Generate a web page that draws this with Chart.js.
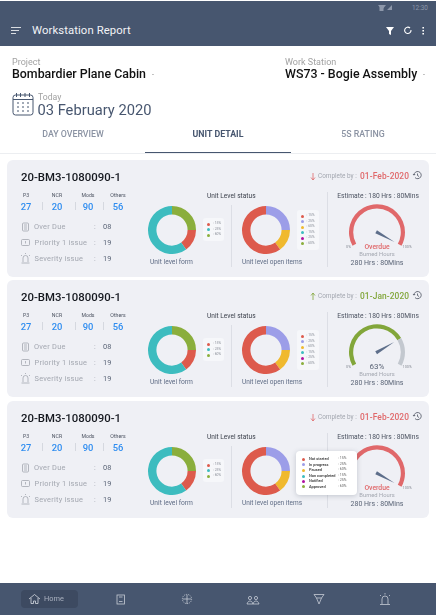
<!DOCTYPE html>
<html>
<head>
<meta charset="utf-8">
<title>Workstation Report</title>
<script src="https://cdn.jsdelivr.net/npm/chart.js@4"></script>
<style>
    html, body { margin: 0; padding: 0; background: #fff; }
    #page { position: relative; width: 436px; height: 616px; overflow: hidden; font-family: Roboto, sans-serif; filter: blur(0.3px); }
    #page div, #page canvas, #page svg { position: absolute; }
    .t { white-space: nowrap; transform: translateY(-50%); line-height: 1; }
    .c { transform: translate(-50%, -50%); }
    svg { overflow: visible; fill: none; }
</style>
</head>
<body>
<div id="page"></div>
<script>
// Values, one entry per unit card.
const unitNames = ['20-BM3-1080090-1', '20-BM3-1080090-1', '20-BM3-1080090-1'];
const countLabels = ['P3', 'NCR', 'Mods', 'Others'];
const countValues = [27, 20, 90, 56];
const issueLabels = ['Over Due', 'Priority 1 issue', 'Severity  issue'];
const issueValues = ['08', '19', '19'];
const completeDates = ['01-Feb-2020', '01-Jan-2020', '01-Feb-2020'];
const gaugeCaptions = ['Overdue', '63%', 'Overdue'];
const gaugeValues = [100, 75, 100];
// Slices clockwise from twelve o'clock.
const formValues = [25, 15, 60];
const openValues = [25, 15, 60];
// Legends as printed.
const formLegend = ['15%', '25%', '60%'];
const openNames = ['Not started', 'In progress', 'Paused', 'Non completed', 'Notified', 'Approved'];
const openLegend = ['15%', '25%', '60%', '15%', '25%', '60%'];

const RED = '#dd5a4c', TEAL = '#3dbcbf', GREEN = '#8aae3c', PURPLE = '#9c9de8', YELLOW = '#f0b92e', MAGENTA = '#b010a0';
const SLATE = '#47566f';
const formColors = [GREEN, RED, TEAL];
const openColors = [PURPLE, YELLOW, RED];
const formLegendColors = [RED, TEAL, GREEN];
const openLegendColors = [RED, PURPLE, YELLOW, TEAL, MAGENTA, GREEN];

const page = document.getElementById( 'page' );

/**
 * Adds a plain box to the page.
 */
function box( x, y, w, h, style ) {
    const el = document.createElement( 'div' );
    el.style.cssText = `left:${x}px;top:${y}px;width:${w}px;height:${h}px;${style || ''}`;
    page.appendChild( el );
    return el;
}

/**
 * Adds a text line, x is its left edge (or centre if centred) and y its middle.
 */
function text( x, y, str, style, centred ) {
    const el = document.createElement( 'div' );
    el.className = centred ? 't c' : 't';
    el.style.cssText = `left:${x}px;top:${y}px;${style}`;
    el.textContent = str;
    page.appendChild( el );
    return el;
}

/**
 * Adds a little line icon from svg markup.
 */
function icon( x, y, markup, color ) {
    const holder = document.createElement( 'div' );
    holder.style.cssText = `left:${x}px;top:${y}px;color:${color};`;
    holder.innerHTML = `<svg width="20" height="20" stroke="currentColor" stroke-width="0.8">${markup}</svg>`;
    page.appendChild( holder );
}

// Draws the gauge needle from the value of the dataset.
const needlePlugin = {
    id: 'needle',
    afterDatasetsDraw( chart, args, opts ) {
        const arc = chart.getDatasetMeta( 0 ).data[0];
        const start = arc.startAngle;
        const sweep = chart.options.circumference * Math.PI / 180;
        const angle = start + sweep * opts.value / 100;
        const ctx = chart.ctx;
        ctx.save();
        ctx.translate( arc.x, arc.y );
        ctx.rotate( angle );
        ctx.fillStyle = '#5d6e8a';
        ctx.beginPath();
        ctx.moveTo( -1, -1.7 );
        ctx.lineTo( 20, 0 );
        ctx.lineTo( -1, 1.7 );
        ctx.closePath();
        ctx.fill();
        ctx.restore();
    }
};

/**
 * Creates a canvas with a doughnut chart centred on cx, cy.
 */
function donut( cx, cy, values, colors ) {
    const canvas = document.createElement( 'canvas' );
    canvas.width = 48;
    canvas.height = 48;
    canvas.style.cssText = `left:${cx - 24}px;top:${cy - 24}px;width:48px;height:48px;`;
    page.appendChild( canvas );
    new Chart( canvas, {
        type: 'doughnut',
        data: { datasets: [{ data: values, backgroundColor: colors, borderWidth: 0 }] },
        options: {
            responsive: false,
            animation: false,
            cutout: '65%',
            plugins: { legend: { display: false }, tooltip: { enabled: false } }
        }
    });
}

/**
 * Creates the speedometer style gauge, the arc is centred on cx, cy.
 */
function gauge( cx, cy, value, color ) {
    const canvas = document.createElement( 'canvas' );
    canvas.width = 56;
    canvas.height = 42;
    canvas.style.cssText = `left:${cx - 28}px;top:${cy - 28}px;width:56px;height:42px;`;
    page.appendChild( canvas );
    new Chart( canvas, {
        type: 'doughnut',
        data: { datasets: [{ data: [value, 100 - value], backgroundColor: [color, '#c3c8cf'], borderWidth: 0 }] },
        options: {
            responsive: false,
            animation: false,
            cutout: '85%',
            rotation: -119,
            circumference: 238,
            plugins: { legend: { display: false }, tooltip: { enabled: false }, needle: { value: value } }
        },
        plugins: [needlePlugin]
    });
}

/**
 * Adds one of the small legends with only percentages.
 */
function legend( x, y, w, rowY, labels, colors, dotX, textX ) {
    box( x, y, w, rowY[rowY.length - 1] - rowY[0] + 12, 'background:#f6f7fa;border-radius:3px;' );
    labels.forEach( ( label, i ) => {
        box( dotX - 1.5, rowY[i] + y - rowY[0] + 6 - 1.5, 3, 3, `background:${colors[i]};border-radius:50%;` );
        text( textX, rowY[i] + y - rowY[0] + 6, ': ' + label, 'font-size:3.4px;color:#8a8f99;' );
    });
}

/**
 * Draws a whole unit card, dy is its offset from the first card.
 */
function unitCard( index, dy ) {
    const late = gaugeCaptions[index] === 'Overdue';
    const accent = late ? '#e0686a' : '#82a63a';
    const ink = 'color:#5b6577;';
    box( 7, 160 + dy, 422, 117, 'background:#eff0f5;border-radius:6px;' );
    text( 21, 178 + dy, unitNames[index], 'font-size:11.4px;font-weight:500;color:#15181f;' );

    // The four counters.
    const countX = [26, 57, 88, 118];
    countLabels.forEach( ( label, i ) => {
        text( countX[i], 196 + dy, label, 'font-size:5.2px;color:#4c5361;', true );
        text( countX[i], 206.5 + dy, String( countValues[i] ), 'font-size:9.4px;font-weight:500;color:#2f8df0;', true );
    });
    [41.5, 74.5, 102.5].forEach( x => box( x, 202 + dy, 0.7, 8, 'background:#d5d8df;' ) );

    // Issue rows.
    const rowY = [227, 243, 259];
    const rowX = [34, 34.5, 34.5];
    issueLabels.forEach( ( label, i ) => {
        text( rowX[i], rowY[i] + dy, label, 'font-size:7.4px;letter-spacing:.25px;color:#a3a7b0;' );
        text( 94, rowY[i] + dy, ':', 'font-size:7px;color:#a3a7b0;' );
        text( 103, rowY[i] + dy, issueValues[i], 'font-size:7.4px;' + ink );
    });
    icon( 22, 222 + dy, '<rect x="0.5" y="1" width="6" height="8" rx="1"/><path d="M2 3h3M2 5h3M2 7h3"/>', '#a3a7b0' );
    icon( 21, 239 + dy, '<rect x="0.5" y="0.5" width="8" height="6" rx="1"/><path d="M4.5 2v2.5"/>', '#a3a7b0' );
    icon( 21, 254 + dy, '<path d="M2 8V4a2.5 2.5 0 0 1 5 0v4M0.5 9h8M4.5 -1v1M0 1l1 1M9 1l-1 1"/>', '#a3a7b0' );

    // Doughnuts.
    donut( 172, 230 + dy, formValues, formColors );
    text( 171.5, 262 + dy, 'Unit level form', 'font-size:6.7px;color:#5f6c85;', true );
    text( 207, 196 + dy, 'Unit Level status', 'font-size:6.6px;color:#3a3f4a;' );
    legend( 203, 218 + dy, 21, [224, 229.6, 235], formLegend, formLegendColors, 208.3, 213 );
    box( 231.3, 205 + dy, 0.7, 62, 'background:#dcdee5;' );
    donut( 265.7, 230 + dy, openValues, openColors );
    text( 272, 262 + dy, 'Unit level open items', 'font-size:6.5px;color:#5f6c85;', true );
    if ( index < 2 ) {
        legend( 297, 210 + dy, 21.5, [216, 221.6, 227, 232.6, 238.2, 243.6], openLegend, openLegendColors, 302, 306.5 );
    }

    // Completion date.
    icon( 310, 172 + dy, late ? '<path d="M3 1v7M1 5.5L3 8l2-2.5"/>' : '<path d="M3 8V1M1 3.5L3 1l2 2.5"/>', accent );
    text( 318, 176 + dy, 'Complete by :', 'font-size:6.4px;color:#a3a7b0;' );
    text( 360, 175.5 + dy, completeDates[index], `font-size:8.4px;font-weight:500;letter-spacing:.1px;color:${accent};` );
    icon( 413, 171 + dy, '<path d="M1 4a3.6 3.6 0 1 1 1 2.6M0 3l1 1.2L2.2 3M4.5 2.5v2l1.5 1"/>', '#4c5361' );

    // Gauge.
    box( 327.3, 192 + dy, 0.7, 75, 'background:#dcdee5;' );
    text( 378, 196 + dy, 'Estimate : 180 Hrs : 80Mins', 'font-size:6.7px;color:#4c5361;', true );
    gauge( 377, 232 + dy, gaugeValues[index], accent );
    text( 346, 247 + dy, '0%', 'font-size:3.8px;color:#8a8f99;' );
    text( 402.5, 247 + dy, '100%', 'font-size:3.8px;color:#8a8f99;' );
    text( 377, 246.5 + dy, gaugeCaptions[index], late ? `font-size:6.8px;font-weight:500;color:${accent};` : 'font-size:8px;color:#5b6577;', true );
    text( 377, 255.3 + dy, 'Burned Hours', 'font-size:5.8px;color:#a3a7b0;', true );
    text( 377, 262.7 + dy, '280 Hrs : 80Mins', 'font-size:7px;color:#5b6577;', true );
}

// Top bar.
box( 0, 1, 436, 45, `background:${SLATE};` );
text( 412, 7.5, '12:30', 'font-size:6.4px;color:#8d97aa;' );
icon( 378, 4, '<path d="M0 1h8L4 6zM9 6l5-5v5z" fill="#8d97aa" stroke="none"/><rect x="24" y="1" width="4" height="6" fill="#8d97aa" stroke="none" transform="translate(-22.5 0)"/>', '#8d97aa' );
icon( 11, 27, '<path d="M0 .5h10M0 3.5h8M0 6.5h5"/>', '#fff' );
text( 32, 30.5, 'Workstation Report', 'font-size:11.3px;font-weight:400;letter-spacing:.1px;color:#f2f3f6;' );
icon( 386, 26.5, '<path d="M0 0h8L5 4v4l-2-1V4z" fill="#fff" stroke="none"/>', '#fff' );
icon( 404, 27, '<path d="M7 3a3.2 3.2 0 1 1-1-2" stroke-width="1.1"/>', '#fff' );
icon( 422, 27, '<path d="M1.2 0v1.6M1.2 3v1.6M1.2 6v1.6" stroke-width="1.6"/>', '#fff' );

// Selection block.
text( 12, 62, 'Project', 'font-size:9px;color:#a2a2a2;' );
text( 12, 73.5, 'Bombardier Plane Cabin', 'font-size:12.4px;font-weight:500;color:#111;' );
text( 152, 75, '-', 'font-size:7px;color:#777;' );
text( 285, 62, 'Work Station', 'font-size:9px;color:#a2a2a2;' );
text( 285, 73.5, 'WS73 - Bogie Assembly', 'font-size:12.4px;font-weight:500;color:#111;' );
text( 423, 75, '-', 'font-size:7px;color:#777;' );
icon( 13, 93, '<rect x="0" y="2" width="20" height="20" rx="2.5" stroke-width="1"/><path d="M3.5 0v4M7.5 0v4M12 0v4M16.5 0v4M0 6.5h20M4 10h2M9 10h2M14 10h2M4 14h2M9 14h2M14 14h2M4 18h2M9 18h2M14 18h2" stroke-width="1"/>', SLATE );
text( 38, 97, 'Today', 'font-size:8.7px;color:#a2a2a2;' );
text( 37.5, 110, '03 February 2020', `font-size:14.7px;color:${SLATE};` );

// Tabs.
text( 73, 134, 'DAY OVERVIEW', 'font-size:8.8px;font-weight:500;color:#8b93a3;', true );
text( 218, 134, 'UNIT DETAIL', `font-size:8.8px;font-weight:700;color:${SLATE};`, true );
text( 363, 134, '5S RATING', 'font-size:8.8px;font-weight:500;color:#8b93a3;', true );
box( 0, 153, 436, 1, 'background:#eceef1;' );
box( 145, 151.5, 146, 1.6, `background:${SLATE};` );

// The three unit cards.
[0, 120, 241].forEach( ( dy, i ) => unitCard( i, dy ) );

// Tooltip laid over the last card.
box( 296, 451, 61, 44, 'background:#fff;border-radius:4px;box-shadow:0 1px 5px rgba(60,70,90,.25);' );
openNames.forEach( ( name, i ) => {
    const y = [459, 464.7, 470.3, 476, 481.3, 486.7][i];
    box( 301.8, y - 1.5, 3, 3, `background:${openLegendColors[i]};border-radius:50%;` );
    text( 309, y, name, 'font-size:3.9px;font-weight:500;color:#333;' );
    text( 338, y, ': ' + openLegend[i], 'font-size:3.6px;color:#666;' );
});

// Bottom navigation.
box( 0, 583, 436, 32, `background:${SLATE};` );
box( 21, 590, 57, 18, 'background:#3d4a61;border-radius:4px;' );
icon( 29, 594, '<path d="M0 5l5.5-4.5L11 5M2 4v5.5h2.5V7h2v2.5H9V4"/>', '#d7dbe2' );
text( 44, 599, 'Home', 'font-size:7.4px;color:#aab1bf;' );
icon( 117, 595, '<rect x="0" y="0" width="7.5" height="9"/><path d="M2 2h3.5M2 6.5h3.5"/>', '#c7ccd5' );
icon( 182, 594, '<circle cx="5" cy="5" r="4.6" stroke-dasharray="1.2 .8"/><path d="M5 1v9M1 5h8"/>', '#c7ccd5' );
icon( 247, 595, '<circle cx="3" cy="3" r="1.6"/><circle cx="9" cy="3" r="1.6"/><path d="M0 9c1-4 5-4 6 0h-6M6 9c1-4 5-4 6 0z"/>', '#c7ccd5' );
icon( 314, 594, '<path d="M0 .5h10L7.5 4H2.5zM2.5 4L5 10l2.5-6"/>', '#c7ccd5' );
icon( 379, 593, '<path d="M3 11V6a3 3 0 0 1 6 0v5M1 11.5h10M6 0v1.5M1 2l1 1M11 2l-1 1"/>', '#c7ccd5' );
</script>
</body>
</html>
